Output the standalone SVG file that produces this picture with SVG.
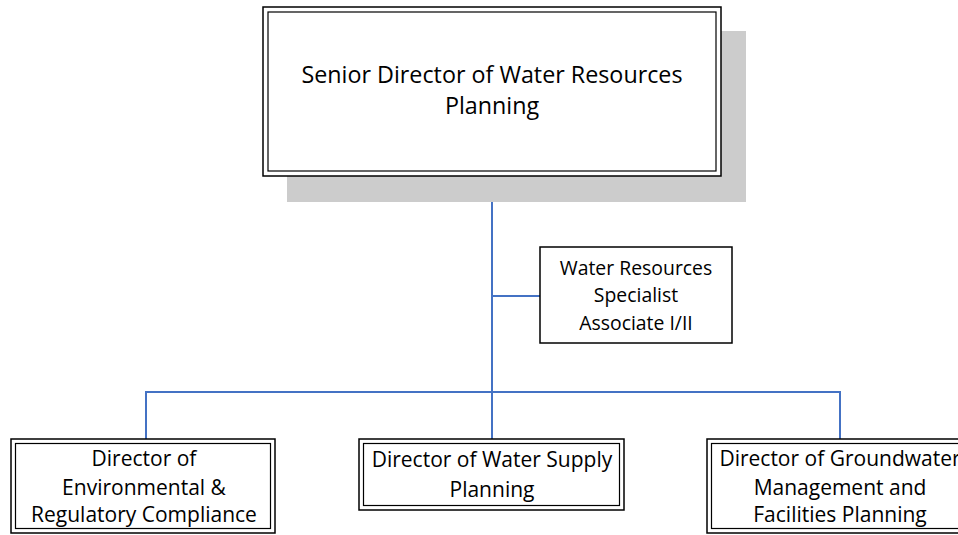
<svg xmlns="http://www.w3.org/2000/svg" width="958" height="535" viewBox="0 0 958 535">
<style>
.o{fill:#fff;stroke:#000;stroke-width:1.5}
.i{fill:none;stroke:#000;stroke-width:1.2}
.b{fill:#fff;stroke:#000;stroke-width:1.5}
.t{font-family:"Open Sans","Liberation Sans",sans-serif;fill:#000;text-anchor:middle}
.c{fill:none;stroke:#4472C4;stroke-width:2}
</style>
<g id="connectors">
<path class="c" d="M492 176V392M492 296H540M146 439V392H840V439M492 392V439"/>
</g>
<g id="senior">
<rect x="287" y="31" width="459" height="171" fill="#cccccc"/>
<rect class="o" x="263" y="7" width="458" height="169"/>
<rect class="i" x="268" y="12" width="448" height="159"/>
<text class="t" font-size="23.3" x="492" y="83">Senior Director of Water Resources</text>
<text class="t" font-size="23.3" x="492" y="114">Planning</text>
</g>
<g id="specialist">
<rect class="b" x="540" y="247" width="192" height="96"/>
<text class="t" font-size="19.4" x="636" y="275">Water Resources</text>
<text class="t" font-size="19.4" x="636" y="302">Specialist</text>
<text class="t" font-size="19.4" x="636" y="330">Associate I/II</text>
</g>
<g id="env">
<rect class="o" x="11" y="439" width="264" height="94"/>
<rect class="i" x="15.5" y="443.5" width="255" height="85"/>
<text class="t" font-size="21" x="144" y="466">Director of</text>
<text class="t" font-size="21" x="144" y="495">Environmental &amp;</text>
<text class="t" font-size="21" x="144" y="522">Regulatory Compliance</text>
</g>
<g id="supply">
<rect class="o" x="359" y="439" width="265" height="71"/>
<rect class="i" x="363.5" y="443.5" width="256" height="62"/>
<text class="t" font-size="21" x="492" y="467">Director of Water Supply</text>
<text class="t" font-size="21" x="492" y="497">Planning</text>
</g>
<g id="groundwater">
<rect class="o" x="707" y="439" width="264" height="94"/>
<rect class="i" x="711.5" y="443.5" width="255" height="85"/>
<text class="t" font-size="21" x="840" y="466">Director of Groundwater</text>
<text class="t" font-size="21" x="840" y="495">Management and</text>
<text class="t" font-size="21" x="840" y="522">Facilities Planning</text>
</g>
</svg>
